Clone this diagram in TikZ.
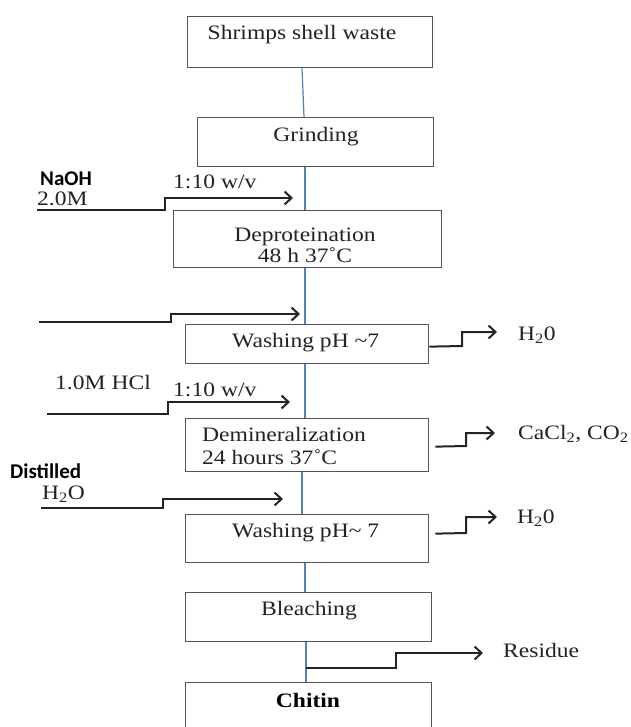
\documentclass[tikz,border=0pt]{standalone}
\usepackage{fontspec}
\setmainfont[FakeStretch=1.15]{Liberation Serif}
\newfontfamily\cali{Carlito}
\usetikzlibrary{arrows.meta}
\definecolor{flowblue}{RGB}{79,129,189}
\definecolor{ink}{RGB}{35,35,35}
\definecolor{edge}{RGB}{85,85,85}
\begin{document}
\begin{tikzpicture}[x=1pt,y=-1pt,
  box/.style={draw=edge, line width=1.3pt, inner sep=0pt, anchor=north west},
  flow/.style={draw=flowblue, line width=1.2pt},
  feed/.style={draw=ink, line width=2pt, -{Straight Barb[length=7pt,width=13pt,line width=2pt]}},
  lbl/.style={font=\fontsize{20.5}{24}\selectfont, inner sep=0pt, text=ink},
  sans/.style={font=\cali\bfseries\fontsize{21}{24}\selectfont, inner sep=0pt, text=black}]
\clip (0,0) rectangle (630,727);
\fill[white] (0,0) rectangle (630,727);

% boxes
\node[box, minimum width=245pt, minimum height=51pt] (shrimp) at (187,16) {};
\node[box, minimum width=236pt, minimum height=49pt] (grind) at (197,117) {};
\node[box, minimum width=268pt, minimum height=57pt] (deprot) at (173,210) {};
\node[box, minimum width=243pt, minimum height=39pt] (wash1) at (185,324) {};
\node[box, minimum width=243pt, minimum height=53pt] (demin) at (185,418) {};
\node[box, minimum width=243pt, minimum height=48pt] (wash2) at (185,514) {};
\node[box, minimum width=246pt, minimum height=49pt] (bleach) at (185,592) {};
\node[box, minimum width=246pt, minimum height=58pt] (chitin) at (185,682) {};

% box texts
\node[lbl, anchor=base] (tshrimp) at (302,40) {Shrimps shell waste};
\node[lbl, anchor=base] (tgrind) at (316,142) {Grinding};
\node[lbl, anchor=base] (tdep1) at (305,241) {Deproteination};
\node[lbl, anchor=base] (tdep2) at (305,262) {48 h 37˚C};
\node[lbl, anchor=base west] (twash1) at (232,347) {Washing pH \textasciitilde7};
\node[lbl, anchor=base west] (tdem1) at (202,441) {Demineralization};
\node[lbl, anchor=base west] (tdem2) at (202,464) {24 hours 37˚C};
\node[lbl, anchor=base west] (twash2) at (232,537) {Washing pH\textasciitilde{} 7};
\node[lbl, anchor=base] (tbleach) at (309,615) {Bleaching};
\node[lbl, anchor=base, font=\fontsize{20.5}{24}\selectfont\bfseries, text=black] (tchitin) at (308,707) {Chitin};

% side labels
\node[sans, anchor=base west] (naoh) at (40,186) {NaOH};
\node[lbl, anchor=base west] (naohc) at (37,206) {2.0M};
\node[lbl, anchor=base west] (ratio1) at (173,189) {1:10 w/v};
\node[lbl, anchor=base west] (hcl) at (55,389) {1.0M HCl};
\node[lbl, anchor=base west] (ratio2) at (173,396) {1:10 w/v};
\node[sans, anchor=base west] (dist) at (10,478) {Distilled};
\node[lbl, anchor=base west] (distw) at (42,499) {H\textsubscript{2}O};
\node[lbl, anchor=base west] (outa) at (518,340) {H\textsubscript{2}0};
\node[lbl, anchor=base west] (outb) at (518,439) {CaCl\textsubscript{2}, CO\textsubscript{2}};
\node[lbl, anchor=base west] (outc) at (517,523) {H\textsubscript{2}0};
\node[lbl, anchor=base west] (resid) at (503,657) {Residue};

% main flow (blue)
\draw[flow] (shrimp.south -| 302,0) -- (grind.north -| 304,0);
\draw[flow] (grind.south -| 305,0) -- (deprot.north -| 305,0);
\draw[flow] (deprot.south -| 305,0) -- (wash1.north -| 305,0);
\draw[flow] (wash1.south -| 305,0) -- (demin.north -| 305,0);
\draw[flow] (demin.south -| 302,0) -- (wash2.north -| 302,0);
\draw[flow] (wash2.south -| 305,0) -- (bleach.north -| 305,0);
\draw[flow] (bleach.south -| 306,0) -- (chitin.north -| 306,0);

% feed arrows
\coordinate (fa0) at (37,210);  \coordinate (fa1) at (293,198);
\coordinate (fb0) at (39,322);  \coordinate (fb1) at (300,314);
\coordinate (fc0) at (47,414);  \coordinate (fc1) at (290,402);
\coordinate (fd0) at (41,508);  \coordinate (fd1) at (283,499);
\draw[feed] (fa0) -- (165,210) -- (165,198) -- (fa1);
\draw[feed] (fb0) -- (171,322) -- (171,314) -- (fb1);
\draw[feed] (fc0) -- (168,414) -- (168,402) -- (fc1);
\draw[feed] (fd0) -- (163,508) -- (163,499) -- (fd1);

% outputs
\coordinate (oa) at (497,332);
\coordinate (ob) at (495,433);
\coordinate (oc) at (497,517);
\coordinate (od) at (483,653);
\coordinate (rs) at (306,668);
\draw[feed] ([yshift=-2.5pt]wash1.east) -- (462,346) -- (462,332) -- (oa);
\draw[feed] ([xshift=6pt,yshift=-1.5pt]demin.east) -- (466,446) -- (466,433) -- (ob);
\draw[feed] ([xshift=6pt,yshift=5pt]wash2.east) -- (466,533) -- (466,517) -- (oc);
\draw[feed] (rs) -- (396,668) -- (396,653) -- (od);
\end{tikzpicture}
\end{document}
